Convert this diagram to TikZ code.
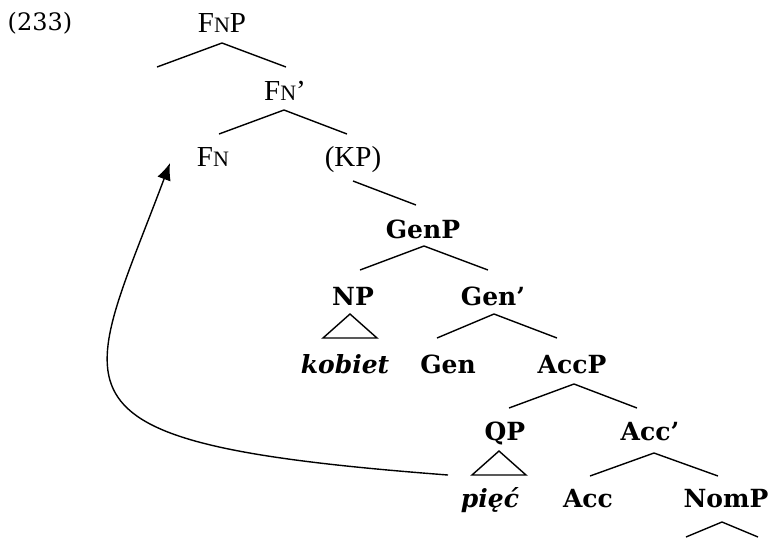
\documentclass[tikz,border=0pt]{standalone}
\usepackage{fontspec}
\setmainfont{Liberation Serif}
\newfontfamily\treefont{DejaVu Serif}
\usetikzlibrary{arrows.meta}

\newcommand{\smcap}[1]{{\fontsize{11}{11}\selectfont #1}}

\begin{document}
\begin{tikzpicture}[x=0.5pt, y=-0.5pt,
    every node/.style = {inner sep=0pt, anchor=base},
    plainn/.style     = {font=\fontsize{14.5}{14.5}\selectfont},
    boldn/.style      = {font=\treefont\bfseries\fontsize{12.5}{12.5}\selectfont},
    wordn/.style      = {font=\treefont\bfseries\itshape\fontsize{12.5}{12.5}\selectfont},
    exnum/.style      = {font=\treefont\fontsize{12}{12}\selectfont},
    branch/.style     = {line width=0.7pt},
    movearr/.style    = {line width=0.7pt, -{Latex[length=8.5pt,width=7pt]}}]

    \useasboundingbox (0,0) rectangle (768,538);

    % Labels
    \node[exnum]  (ex)    at ( 40, 30) {(233)};
    \node[plainn] (FNP)   at (222, 32) {F\smcap{N}P};
    \node[plainn] (FNbar) at (285,100) {F\smcap{N}’};
    \node[plainn] (FN)    at (213,166) {F\smcap{N}};
    \node[plainn] (KP)    at (353,166) {(KP)};
    \node[boldn]  (GenP)  at (423,238) {GenP};
    \node[boldn]  (NP)    at (353,305) {NP};
    \node[boldn]  (Genb)  at (493,305) {Gen’};
    \node[wordn]  (kob)   at (345,373) {kobiet};
    \node[boldn]  (Gen)   at (448,373) {Gen};
    \node[boldn]  (AccP)  at (572,373) {AccP};
    \node[boldn]  (QP)    at (505,440) {QP};
    \node[boldn]  (Accb)  at (650,440) {Acc’};
    \node[wordn]  (piec)  at (490,507) {pięć};
    \node[boldn]  (Acc)   at (588,507) {Acc};
    \node[boldn]  (NomP)  at (726,507) {NomP};

    % Branch points
    \coordinate (FNPa)  at (222, 43); \coordinate (FNPl)  at (157, 67); \coordinate (FNPr)  at (286, 67);
    \coordinate (FNba)  at (284,110); \coordinate (FNbl)  at (219,134); \coordinate (FNbr)  at (347,134);
    \coordinate (KPa)   at (353,181); \coordinate (KPr)   at (416,205);
    \coordinate (GenPa) at (424,246); \coordinate (GenPl) at (360,270); \coordinate (GenPr) at (488,270);
    \coordinate (NPa)   at (350,314); \coordinate (NPl)   at (323,338); \coordinate (NPr)   at (377,338);
    \coordinate (Genba) at (494,314); \coordinate (Genbl) at (437,338); \coordinate (Genbr) at (557,338);
    \coordinate (AccPa) at (574,384); \coordinate (AccPl) at (509,408); \coordinate (AccPr) at (637,408);
    \coordinate (QPa)   at (499,451); \coordinate (QPl)   at (472,475); \coordinate (QPr)   at (526,475);
    \coordinate (Accba) at (654,453); \coordinate (Accbl) at (590,476); \coordinate (Accbr) at (718,476);
    \coordinate (NomPa) at (722,522); \coordinate (NomPl) at (686,537); \coordinate (NomPr) at (758,537);

    % Branches
    \draw[branch] (FNPl)  -- (FNPa)  -- (FNPr);
    \draw[branch] (FNbl)  -- (FNba)  -- (FNbr);
    \draw[branch] (KPa)   -- (KPr);
    \draw[branch] (GenPl) -- (GenPa) -- (GenPr);
    \draw[branch] (NPl)   -- (NPa)   -- (NPr) -- cycle;
    \draw[branch] (Genbl) -- (Genba) -- (Genbr);
    \draw[branch] (AccPl) -- (AccPa) -- (AccPr);
    \draw[branch] (QPl)   -- (QPa)   -- (QPr) -- cycle;
    \draw[branch] (Accbl) -- (Accba) -- (Accbr);
    \draw[branch] (NomPl) -- (NomPa) -- (NomPr);

    % Movement
    \coordinate (mvfrom) at (448,475);
    \coordinate (mvto)   at (170,163);
    \draw[movearr] (mvfrom) .. controls (28,443) and (82,398) .. (mvto);
\end{tikzpicture}
\end{document}
